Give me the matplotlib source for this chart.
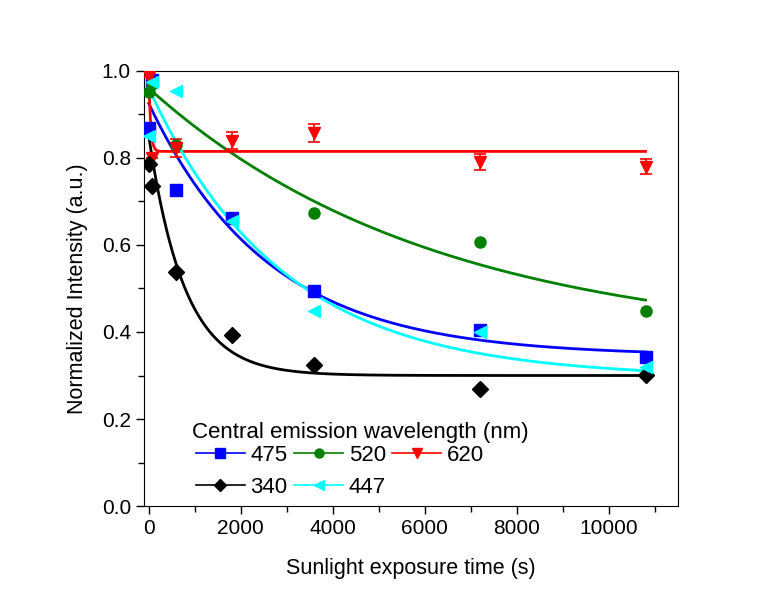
import numpy as np
import matplotlib
matplotlib.use("Agg")
import matplotlib.pyplot as plt
from matplotlib.ticker import MultipleLocator

plt.rcParams['font.family'] = ['Liberation Sans', 'DejaVu Sans']

# Data
t = [0, 60, 600, 1800, 3600, 7200, 10800]
labels = ['475', '520', '620', '340', '447']
colors = ['#0000ff', '#008000', '#ff0000', '#000000', '#00ffff']
markers = ['s', 'o', 'v', 'D', '<']
y475 = [0.869, 0.980, 0.727, 0.662, 0.494, 0.405, 0.343]
y520 = [0.952, 0.970, 0.830, np.nan, 0.674, 0.607, 0.448]
y620 = [0.985, 0.800, 0.823, 0.840, 0.857, 0.790, 0.780]
y340 = [0.786, 0.735, 0.538, 0.393, 0.324, 0.269, 0.301]
y447 = [0.850, 0.975, 0.954, 0.655, 0.448, 0.400, 0.320]
err620 = [0.0, 0.0, 0.02, 0.02, 0.02, 0.018, 0.018]
series = [y475, y520, y620, y340, y447]
# exponential fit parameters: y0, A, tau
fits = [(0.345, 0.58, 2600), (0.37, 0.59, 6200), (0.815, 0.18, 40),
        (0.30, 0.55, 780), (0.295, 0.665, 2900)]

fig = plt.figure(figsize=(7.71, 6.01), dpi=100)
ax = fig.add_axes([0.187, 0.158, 0.692, 0.724])

tt = np.linspace(0, 10800, 2000)
handles = []
for lab, c, m, ys, (y0, A, tau) in zip(labels, colors, markers, series, fits):
    ax.plot(tt, y0 + A * np.exp(-tt / tau), color=c, lw=2.0, zorder=2)
    if lab == '620':
        ax.errorbar(t, ys, yerr=err620, fmt='none', ecolor=c, elinewidth=1.2,
                    capsize=4, capthick=1.2, zorder=3)
    ax.plot(t, ys, ls='none', marker=m, color=c, ms=8, zorder=4)
    h, = ax.plot([], [], color=c, lw=1.2, marker=m, ms=6.5)
    handles.append(h)

ax.set_xlim(-100, 11500)
ax.set_ylim(0, 1.0)
ax.xaxis.set_major_locator(MultipleLocator(2000))
ax.xaxis.set_minor_locator(MultipleLocator(1000))
ax.yaxis.set_major_locator(MultipleLocator(0.2))
ax.yaxis.set_minor_locator(MultipleLocator(0.1))
ax.tick_params(which='both', direction='out', labelsize=15, top=False, right=False)
ax.tick_params(which='major', length=6, width=1)
ax.tick_params(which='minor', length=4, width=1)
ax.set_xlabel('Sunlight exposure time (s)', fontsize=15.5, labelpad=14)
ax.set_ylabel('Normalized Intensity (a.u.)', fontsize=15.5, labelpad=10)

ax.text(0.09, 0.170, 'Central emission wavelength (nm)', transform=ax.transAxes,
        fontsize=16, ha='left', va='center')

order = [0, 3, 1, 4, 2]
leg = ax.legend([handles[i] for i in order], [labels[i] for i in order], ncol=3,
                fontsize=16, frameon=False, loc='center left',
                bbox_to_anchor=(0.097, 0.079), handlelength=2.2, columnspacing=0.3,
                handletextpad=0.25, labelspacing=0.5, borderpad=0.0, borderaxespad=0.0)

fig.savefig('out.png', dpi=100)
